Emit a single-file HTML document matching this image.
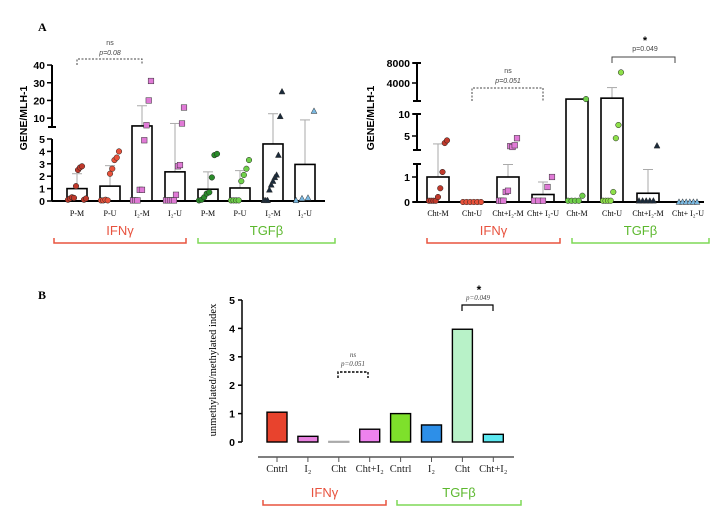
<!DOCTYPE html>
<html><head><meta charset="utf-8"><style>
html,body{margin:0;padding:0;background:#fff;}
svg{display:block;font-family:"Liberation Sans",sans-serif;}
.ser{font-family:"Liberation Serif",serif;}
</style></head><body>
<svg id="fig" width="721" height="527" viewBox="0 0 721 527" xmlns="http://www.w3.org/2000/svg">
<text x="38" y="31" class="ser" font-size="12" font-weight="bold">A</text>
<text x="38" y="299" class="ser" font-size="12" font-weight="bold">B</text>
<g id="pl"></g>
<g id="pr"></g>
<g id="pb"></g>
</svg>
<script>
// ---- Left panel data
const leftCats=["P-M","P-U","I₂-M","I₂-U","P-M","P-U","I₂-M","I₂-U"];
const leftBars=[1.0,1.2,5.6,2.35,0.95,1.05,4.6,2.95];
const leftErr=[2.2,2.85,17,7,2.35,2.45,12.5,9];
const leftPts=[[0.1,0.2,0.3,0.25,1.2,2.5,2.7,2.8,0.1,0.2],[0.05,0.05,0.1,0.05,2.2,2.6,3.3,3.5,4.0],[0.05,0.05,0.05,0.9,0.9,4.9,6,20,31],[0.05,0.05,0.05,0.05,0.05,0.5,2.8,2.9,7,16],[0.05,0.1,0.3,0.6,0.7,1.9,3.7,3.8],[0.05,0.05,0.05,0.05,1.6,2.1,2.6,3.3],[0.05,0.05,0.05,0.9,1.3,1.6,1.9,2.1,3.7,11,25],[0.05,0.2,0.25,14]];
const leftColors=["#c0392b","#e8513a","#e07ad6","#e07ad6","#2a8a2a","#6fd04a","#1a2a3a","#7ab8e0"];
const leftShapes=["c","c","s","s","c","c","t","t"];
// ---- Right panel data
const rightCats=["Cht-M","Cht-U","Cht+I₂-M","Cht+ I₂-U","Cht-M","Cht-U","Cht+I₂-M","Cht+ I₂-U"];
const rightBars=[1.0,0,1.0,0.3,700,900,0.35,0];
const rightErr=[3.2,0,1.5,0.8,700,3200,1.3,0];
const rightPts=[[0.05,0.05,0.05,0.05,0.2,0.55,1.2,3.4,4.0],[0,0,0,0,0,0],[0.05,0.05,0.05,0.4,0.45,2.7,2.5,2.9,4.5],[0.05,0.05,0.05,0.6,1.0],[0.05,0.05,0.05,0.05,0.25,700],[0.05,0.05,0.05,0.05,0.4,4.5,7.5,6500],[0.05,0.05,0.05,0.05,0.05,2.8],[0,0,0,0,0,0]];
const rightColors=["#c0392b","#e8513a","#e07ad6","#e07ad6","#6fd04a","#8ee04a","#1a2a3a","#7ab8e0"];
const rightShapes=["c","c","s","s","c","c","t","t"];
// ---- Bottom panel data
const botCats=["Cntrl","I₂","Cht","Cht+I₂","Cntrl","I₂","Cht","Cht+I₂"];
const botVals=[1.05,0.2,0.02,0.45,1.0,0.6,3.97,0.27];
const botColors=["#e8432d","#e882e0","#bbbbbb","#ee82ee","#7ee02b","#2d8fe8","#b8f2c8","#5ce8f0"];
const botTicks=[0,1,2,3,4,5];
const leftTicksLow=[0,1,2,3,4,5], leftTicksHigh=[10,20,30,40];
const rightTicksLow=[0,1], rightTicksMid=[5,10], rightTicksHigh=[4000,8000];

const NS="http://www.w3.org/2000/svg";
function mk(p,t,a){const e=document.createElementNS(NS,t);for(const k in a)e.setAttribute(k,a[k]);p.appendChild(e);return e;}
function txt(p,x,y,s,a){const e=mk(p,"text",Object.assign({x:x,y:y},a));e.textContent=s;return e;}

// scales
function yL(v){return v<=5?201-v*12.4:127-(v-5)*1.77;}
function yR(v){if(v<=1.5)return 202-v*25;if(v<=10)return 145-(v-3)*3.1-(v>5?0:0);return 100-(v-500)*0.0046;}
function yRm(v){return 136-(v-5)*4.4;}
function yRf(v){return v<=1.5?202-v*25:(v<=12?yRm(v):100-(v-500)*0.0046);}
function yB(v){return 442-v*28.4;}
const xL=i=>[77,110,142,175,208,240,273,305][i];
const xR=i=>[438,472,508,543,577,612,648,688][i];
const xB=i=>277+i*30.9;

function drawPts(g,cx,vals,yf,col,shape,name){
  vals.forEach((v,j)=>{
    const n=vals.length, x=cx-9+ (n>1? j*18/(n-1):9), y=yf(v);
    let e;
    if(shape==="c")e=mk(g,"circle",{cx:x,cy:y,r:2.8,fill:col,stroke:"#222","stroke-width":0.5});
    else if(shape==="s")e=mk(g,"rect",{x:x-2.8,y:y-2.8,width:5.6,height:5.6,fill:col,stroke:"#333","stroke-width":0.5});
    else e=mk(g,"path",{d:`M${x},${y-3.2}L${x+3},${y+2.4}L${x-3},${y+2.4}Z`,fill:col,stroke:"#333","stroke-width":0.5});
    
    
  });
}
function groupBrackets(g,x1,x2,x3,x4,y){
  [[x1,x2,"#e8533f","IFNγ"],[x3,x4,"#7ed957","TGFβ"]].forEach(([a,b,c,l])=>{
    const p=mk(g,"path",{d:`M${a},${y-5}V${y}H${b}V${y-5}`,fill:"none",stroke:c,"stroke-width":1.5});
    
    
    const t=txt(g,(a+b)/2,y-8,l,{"font-size":13,"text-anchor":"middle",fill:l==="IFNγ"?"#e8533f":"#5cb82e"});
    
    
  });
}

// ---- LEFT
(function(){
  const g=document.getElementById("pl");
  mk(g,"line",{x1:52,y1:201,x2:325,y2:201,stroke:"#000","stroke-width":2});
  mk(g,"line",{x1:52,y1:139,x2:52,y2:201,stroke:"#000","stroke-width":2});
  mk(g,"line",{x1:52,y1:65,x2:52,y2:127,stroke:"#000","stroke-width":2});
  mk(g,"line",{x1:48,y1:127,x2:56,y2:127,stroke:"#000","stroke-width":2});
  leftTicksLow.forEach(t=>{mk(g,"line",{x1:47,y1:yL(t),x2:52,y2:yL(t),stroke:"#000","stroke-width":1.5});
    const e=txt(g,45,yL(t)+4,String(t),{"font-size":10.5,"font-weight":"bold","text-anchor":"end"});
    });
  leftTicksHigh.forEach(t=>{mk(g,"line",{x1:47,y1:yL(t),x2:52,y2:yL(t),stroke:"#000","stroke-width":1.5});
    const e=txt(g,45,yL(t)+4,String(t),{"font-size":10.5,"font-weight":"bold","text-anchor":"end"});
    });
  const yt=txt(g,0,0,"GENE/MLH-1",{"font-size":10.5,"font-weight":"bold","text-anchor":"middle",transform:"translate(27,118) rotate(-90)"});
  
  leftCats.forEach((c,i)=>{
    const x=xL(i);
    mk(g,"line",{x1:x,y1:yL(leftBars[i]),x2:x,y2:yL(leftErr[i]),stroke:"#aaa","stroke-width":1});
    mk(g,"line",{x1:x-5,y1:yL(leftErr[i]),x2:x+5,y2:yL(leftErr[i]),stroke:"#aaa","stroke-width":1});
    const b=mk(g,"rect",{x:x-10,y:yL(leftBars[i]),width:20,height:201-yL(leftBars[i]),fill:"none",stroke:"#000","stroke-width":1.6});
    
    drawPts(g,x,leftPts[i],yL,leftColors[i],leftShapes[i],'left-'+i);
    const t=txt(g,x,216,c,{"font-size":8,"text-anchor":"middle",class:"ser"});
    
  });
  mk(g,"path",{d:"M77,65V59H142V65",fill:"none",stroke:"#444","stroke-dasharray":"2,1.5"});
  txt(g,110,45,"ns",{"font-size":7,"text-anchor":"middle",fill:"#444"});
  txt(g,110,55,"p=0.08",{"font-size":7,"text-anchor":"middle","font-style":"italic",fill:"#444"});
  groupBrackets(g,54,186,198,335,243);
})();

// ---- RIGHT
(function(){
  const g=document.getElementById("pr");
  mk(g,"line",{x1:417,y1:202,x2:704,y2:202,stroke:"#000","stroke-width":2});
  [[164,202],[114,150],[63,101]].forEach(([a,b])=>{mk(g,"line",{x1:417,y1:a,x2:417,y2:b,stroke:"#000","stroke-width":2});
    mk(g,"line",{x1:413,y1:a,x2:421,y2:a,stroke:"#000","stroke-width":2});mk(g,"line",{x1:413,y1:b,x2:421,y2:b,stroke:"#000","stroke-width":2});});
  const ticks=[[0,202],[1,177],[5,yRm(5)],[10,yRm(10)],[4000,83],[8000,63]];
  ticks.forEach(([t,y])=>{mk(g,"line",{x1:412,y1:y,x2:417,y2:y,stroke:"#000","stroke-width":1.5});
    const e=txt(g,410,y+4,String(t),{"font-size":10.5,"font-weight":"bold","text-anchor":"end"});
    });
  const yt=txt(g,0,0,"GENE/MLH-1",{"font-size":10.5,"font-weight":"bold","text-anchor":"middle",transform:"translate(374,118) rotate(-90)"});
  
  rightCats.forEach((c,i)=>{
    const x=xR(i), yb=yRf(rightBars[i]), ye=yRf(rightErr[i]);
    if(rightErr[i]>rightBars[i]){mk(g,"line",{x1:x,y1:yb,x2:x,y2:ye,stroke:"#aaa","stroke-width":1});
    mk(g,"line",{x1:x-5,y1:ye,x2:x+5,y2:ye,stroke:"#aaa","stroke-width":1});}
    if(rightBars[i]>0){const b=mk(g,"rect",{x:x-11,y:yb,width:22,height:202-yb,fill:"none",stroke:"#000","stroke-width":1.6});
    }
    drawPts(g,x,rightPts[i],yRf,rightColors[i],rightShapes[i],'right-'+i);
    const t=txt(g,x,216,c,{"font-size":8,"text-anchor":"middle",class:"ser"});
    
  });
  mk(g,"path",{d:"M472,101V88H543V101",fill:"none",stroke:"#444","stroke-dasharray":"2,1.5"});
  txt(g,508,73,"ns",{"font-size":7,"text-anchor":"middle",fill:"#444"});
  txt(g,508,83,"p=0.051",{"font-size":7,"text-anchor":"middle","font-style":"italic",fill:"#444"});
  mk(g,"path",{d:"M612,63V57H675V63",fill:"none",stroke:"#444","stroke-width":1});
  txt(g,645,44,"*",{"font-size":11,"text-anchor":"middle","font-weight":"bold"});
  txt(g,645,51,"p=0.049",{"font-size":7,"text-anchor":"middle",fill:"#444"});
  groupBrackets(g,427,560,572,709,243);
})();

// ---- BOTTOM
(function(){
  const g=document.getElementById("pb");
  mk(g,"line",{x1:242,y1:300,x2:242,y2:442,stroke:"#000","stroke-width":1.5});
  botTicks.forEach(t=>{mk(g,"line",{x1:238,y1:yB(t),x2:242,y2:yB(t),stroke:"#000","stroke-width":1.5});
    const e=txt(g,235,yB(t)+4,String(t),{"font-size":10.5,"font-weight":"bold","text-anchor":"end"});
    });
  const yt=txt(g,0,0,"unmethylated/methylated index",{"font-size":10.5,"text-anchor":"middle",class:"ser",transform:"translate(216,370) rotate(-90)"});
  
  mk(g,"line",{x1:258,y1:457,x2:514,y2:457,stroke:"#555","stroke-width":1.5});
  botCats.forEach((c,i)=>{
    const x=xB(i), y=yB(botVals[i]);
    mk(g,"line",{x1:x,y1:457,x2:x,y2:462,stroke:"#555","stroke-width":1});
    const b=mk(g,"rect",{x:x-10,y:y,width:20,height:Math.max(442-y,0.8),fill:botColors[i],stroke:i===2?"#aaa":"#000","stroke-width":1.4});
    
    const t=txt(g,x,472,c,{"font-size":10.5,"text-anchor":"middle",class:"ser",fill:"#222"});
    
  });
  mk(g,"path",{d:"M338,378V372H368V378",fill:"none",stroke:"#000","stroke-dasharray":"2.5,1.5","stroke-width":1.4});
  txt(g,353,357,"ns",{"font-size":7,"text-anchor":"middle",class:"ser","font-style":"italic",fill:"#444"});
  txt(g,353,366,"p=0.051",{"font-size":7,"text-anchor":"middle",class:"ser","font-style":"italic",fill:"#444"});
  mk(g,"path",{d:"M462,311V305H493V311",fill:"none",stroke:"#000","stroke-width":1.2});
  txt(g,479,294,"*",{"font-size":12,"text-anchor":"middle","font-weight":"bold"});
  txt(g,478,300,"p=0.049",{"font-size":7,"text-anchor":"middle",class:"ser","font-style":"italic",fill:"#444"});
  groupBrackets(g,263,386,397,521,505);
})();
</script>
</body></html>
